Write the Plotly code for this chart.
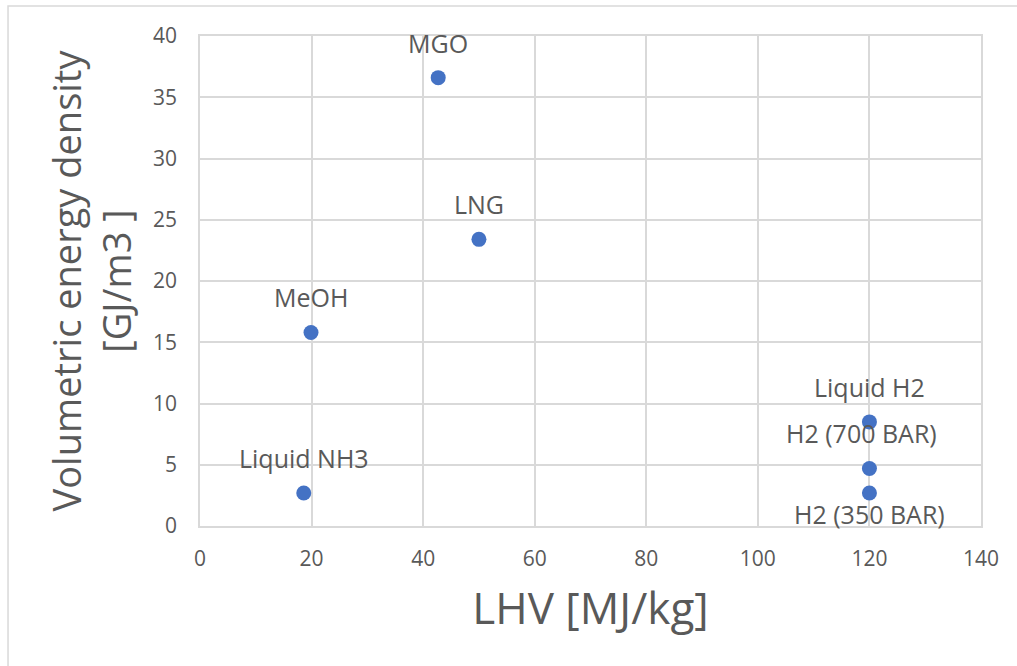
import plotly.graph_objects as go

fuels = ["MGO", "LNG", "MeOH", "Liquid NH3", "Liquid H2", "H2 (700 BAR)", "H2 (350 BAR)"]
lhv = [42.7, 50.0, 19.9, 18.6, 120.0, 120.0, 120.0]
vol_density = [36.6, 23.4, 15.8, 2.7, 8.5, 4.7, 2.7]
label_side = ["above", "above", "above", "above", "above", "above", "below"]

x_ticks = [0, 20, 40, 60, 80, 100, 120, 140]
y_ticks = [0, 5, 10, 15, 20, 25, 30, 35, 40]

FONT = "Open Sans"
TXT = "#595959"
GRID = "#d9d9d9"

fig = go.Figure()
fig.add_trace(go.Scatter(
    x=lhv, y=vol_density, mode="markers",
    marker=dict(size=15, color="#4472C4"),
    hoverinfo="x+y", showlegend=False,
))

label_xshift = {"H2 (700 BAR)": -8}
for name, xv, yv, side in zip(fuels, lhv, vol_density, label_side):
    fig.add_annotation(
        x=xv, y=yv, text=name, showarrow=False,
        yshift=35 if side == "above" else -21,
        xshift=label_xshift.get(name, 0),
        font=dict(family=FONT, size=25, color=TXT),
        xanchor="center", yanchor="middle",
    )

# outer chart border (partly cut off at right/bottom)
fig.add_shape(type="rect", xref="paper", yref="paper",
              x0=-0.2458, x1=1.2, y0=-0.6, y1=1.0612,
              line=dict(color=GRID, width=1.5), layer="below")

fig.update_layout(
    width=1017, height=666,
    margin=dict(l=200, r=36, t=36, b=140),
    paper_bgcolor="white", plot_bgcolor="white",
    font=dict(family=FONT, color=TXT),
    xaxis=dict(
        range=[0, 140], tickvals=x_ticks, ticktext=[str(v) for v in x_ticks],
        showgrid=True, gridcolor=GRID, gridwidth=1.5,
        showline=True, linecolor=GRID, linewidth=1.5, mirror=True,
        zeroline=False, ticks="", tickfont=dict(family=FONT, size=21, color=TXT),
        ticklabelstandoff=13,
        title=dict(text="LHV [MJ/kg]", font=dict(family=FONT, size=44, color=TXT), standoff=22),
    ),
    yaxis=dict(
        range=[0, 40], tickvals=y_ticks, ticktext=[str(v) for v in y_ticks],
        showgrid=True, gridcolor=GRID, gridwidth=1.5,
        showline=True, linecolor=GRID, linewidth=1.5, mirror=True,
        zeroline=False, ticks="", tickfont=dict(family=FONT, size=21, color=TXT),
        ticklabelstandoff=17,
        title=dict(text="Volumetric energy density<br>[GJ/m3 ]", font=dict(family=FONT, size=38, color=TXT), standoff=10),
    ),
)

fig.write_html("out.html")
